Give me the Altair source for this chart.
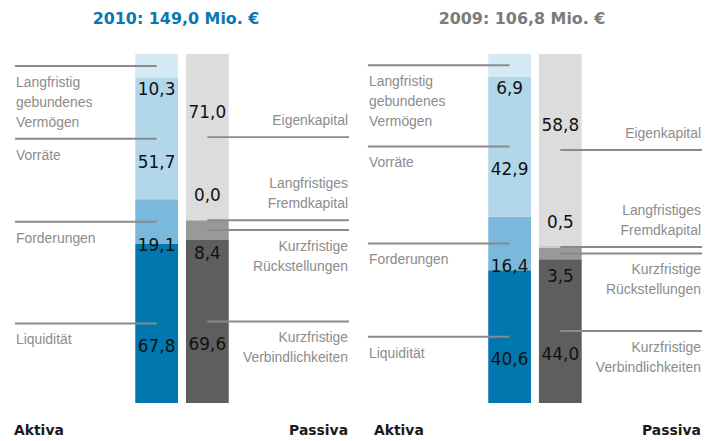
import altair as alt
import pandas as pd

# ---------------- data ----------------
aktiva_cats = ["Liquidität", "Forderungen", "Vorräte", "Langfristig gebundenes Vermögen"]
passiva_cats = ["Kurzfristige Verbindlichkeiten", "Kurzfristige Rückstellungen",
                "Langfristiges Fremdkapital", "Eigenkapital"]

aktiva_2010 = [67.8, 19.1, 51.7, 10.3]
passiva_2010 = [69.6, 8.4, 0.0, 71.0]
aktiva_2009 = [40.6, 16.4, 42.9, 6.9]
passiva_2009 = [44.0, 3.5, 0.5, 58.8]

titles = ["2010: 149,0 Mio. €", "2009: 106,8 Mio. €"]
title_colors = ["#0a77b0", "#7a7c77"]

label_text = {
    "Liquidität": "Liquidität",
    "Forderungen": "Forderungen",
    "Vorräte": "Vorräte",
    "Langfristig gebundenes Vermögen": "Langfristig\ngebundenes\nVermögen",
    "Kurzfristige Verbindlichkeiten": "Kurzfristige\nVerbindlichkeiten",
    "Kurzfristige Rückstellungen": "Kurzfristige\nRückstellungen",
    "Langfristiges Fremdkapital": "Langfristiges\nFremdkapital",
    "Eigenkapital": "Eigenkapital",
}
labels_above = ["Langfristiges Fremdkapital", "Eigenkapital"]

all_cats = aktiva_cats + passiva_cats
all_colors = ["#0077ae", "#7ab9dc", "#b2d7ea", "#d5e9f4",
              "#5e5e5e", "#999999", "#c4c4c4", "#dcdcdc"]

# ---------------- layout constants ----------------
W = 337
H = 425
LINE_GRAY = "#8a8a8a"
LABEL_GRAY = "#8c8c8c"


def build_rows(side, cats, values):
    total = sum(values)
    rows = []
    cum = 0.0
    for c, v in zip(cats, values):
        y0 = cum / total * 100
        cum += v
        y1 = cum / total * 100
        rows.append({
            "side": side, "cat": c, "value": v,
            "y0": y0, "y1": y1, "mid": (y0 + y1) / 2,
            "label": label_text[c],
            "nlines": label_text[c].count("\n") + 1,
            "vtext": f"{v:.1f}".replace(".", ","),
            "above": c in labels_above,
        })
    return rows


def panel(title, tcolor, aktiva_vals, passiva_vals, title_x, aktiva_x):
    df = pd.DataFrame(build_rows("Aktiva", aktiva_cats, aktiva_vals)
                      + build_rows("Passiva", passiva_cats, passiva_vals))
    xs = alt.Scale(domain=["Aktiva", "Passiva"], range=[122, 216],
                   paddingInner=0.157, paddingOuter=0)
    ys = alt.Scale(domain=[0, 100], range=[396, 45], nice=False, zero=False)
    X = alt.X("side:N", scale=xs, axis=None)
    Y = alt.Y("mid:Q", scale=ys, axis=None)
    base = alt.Chart(df)

    bars = base.mark_bar().encode(
        x=X,
        y=alt.Y("y0:Q", scale=ys, axis=None),
        y2="y1:Q",
        color=alt.Color("cat:N", scale=alt.Scale(domain=all_cats, range=all_colors), legend=None),
    )

    rule_a = base.transform_filter(alt.datum.side == "Aktiva").mark_rule(
        color=LINE_GRAY, strokeWidth=2).encode(x=X, x2=alt.value(1), y=Y)
    rule_p = base.transform_filter(alt.datum.side == "Passiva").mark_rule(
        color=LINE_GRAY, strokeWidth=2).encode(x=X, x2=alt.value(W), y=Y)

    txt = dict(font="Liberation Sans", fontSize=14, color=LABEL_GRAY,
               lineBreak="\n", lineHeight=20)
    lab_a = base.transform_filter(alt.datum.side == "Aktiva").mark_text(
        align="left", baseline="top", dy=10, **txt).encode(
        x=alt.value(2), y=Y, text="label:N")
    lab_p_above1 = base.transform_filter(
        (alt.datum.side == "Passiva") & alt.datum.above & (alt.datum.nlines == 1)).mark_text(
        align="right", baseline="bottom", dy=-9, **txt).encode(
        x=alt.value(W - 1), y=Y, text="label:N")
    lab_p_above2 = base.transform_filter(
        (alt.datum.side == "Passiva") & alt.datum.above & (alt.datum.nlines == 2)).mark_text(
        align="right", baseline="bottom", dy=-29, **txt).encode(
        x=alt.value(W - 1), y=Y, text="label:N")
    lab_p_below = base.transform_filter(
        (alt.datum.side == "Passiva") & ~alt.datum.above).mark_text(
        align="right", baseline="top", dy=10, **txt).encode(
        x=alt.value(W - 1), y=Y, text="label:N")

    vtxt = dict(font="DejaVu Sans", fontSize=17, color="#111111", baseline="middle", align="center")
    val_above = base.transform_filter(alt.datum.above).mark_text(dy=-24, **vtxt).encode(
        x=X, y=Y, text="vtext:N")
    val_below = base.transform_filter(~alt.datum.above).mark_text(dy=24, **vtxt).encode(
        x=X, y=Y, text="vtext:N")

    ttl = alt.Chart(pd.DataFrame({"t": [title]})).mark_text(
        font="DejaVu Sans", fontWeight="bold", fontSize=16, color=tcolor,
        align="center", baseline="middle").encode(
        text="t:N", x=alt.value(title_x), y=alt.value(10))
    akt = alt.Chart(pd.DataFrame({"t": ["Aktiva"]})).mark_text(
        font="DejaVu Sans", fontWeight="bold", fontSize=14, color="#1a1a1a",
        align="left", baseline="middle").encode(
        text="t:N", x=alt.value(aktiva_x), y=alt.value(424))
    pas = alt.Chart(pd.DataFrame({"t": ["Passiva"]})).mark_text(
        font="DejaVu Sans", fontWeight="bold", fontSize=14, color="#1a1a1a",
        align="right", baseline="middle").encode(
        text="t:N", x=alt.value(W - 1), y=alt.value(424))

    return alt.layer(bars, rule_a, rule_p, lab_a, lab_p_above1, lab_p_above2, lab_p_below,
                     val_above, val_below, ttl, akt, pas).properties(width=W, height=H)


p2010 = panel(titles[0], title_colors[0], aktiva_2010, passiva_2010, 163, 0)
p2009 = panel(titles[1], title_colors[1], aktiva_2009, passiva_2009, 156, 7)

chart = alt.hconcat(p2010, p2009, spacing=18, bounds="flush").properties(
    padding={"left": 6, "top": 0, "right": 0, "bottom": 0}
).configure_view(stroke=None)

chart.save("out.html", embed_options={"renderer": "svg", "actions": False})
